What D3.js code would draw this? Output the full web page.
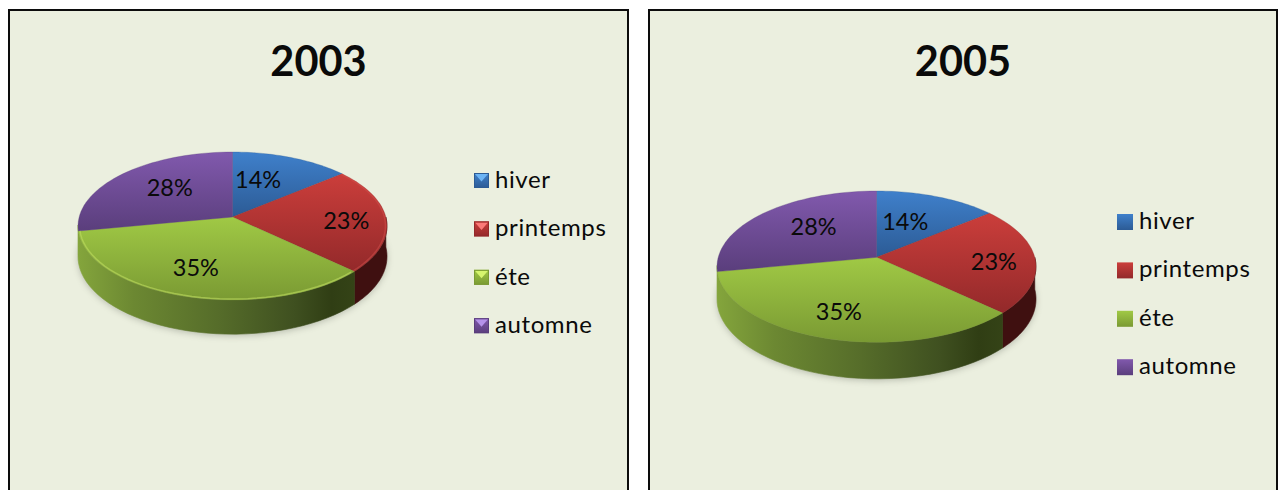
<!DOCTYPE html>
<html><head><meta charset="utf-8">
<script src="https://cdn.jsdelivr.net/npm/d3@7"></script>
<style>html,body{margin:0;padding:0;background:#fff;overflow:hidden}svg{display:block}text{font-family:Lato,"Open Sans",sans-serif;fill:#0a0a0a}</style>
</head><body><svg id="c" width="1281" height="490"></svg>
<script>
const categories = ["hiver","printemps","éte","automne"];
const values2003 = [14,23,35,28];
const values2005 = [14,23,35,28];
const titles = ["2003","2005"];

const palette = {
  hiver:{top:"#3f80cb",bot:"#2c5b95",wall:"#1c3a60",light:"#6cb4f5"},
  printemps:{top:"#cb3e3b",bot:"#93292a",wall:"#3f1010",light:"#fb7a78"},
  "éte":{top:"#a0c945",bot:"#7a9a33",wall:"#55702a",light:"#d6f56e"},
  automne:{top:"#8159ad",bot:"#5a3e7c",wall:"#3a2850",light:"#b592ea"}
};
// label placement: fraction of radius along the slice's mid-angle, plus fine nudge in px
const labelFrac=[0.58,0.74,0.68,0.60];
const panels = [
 {i:0,x:9,w:619,title:titles[0],tx:318.5,values:values2003,cx:232.5,cy:217,up:65,down:83,hw:154.5,depth:30,bevel:true,legX:474,legY:173,textX:495,sw:15,
  nudge:[[-10,-1],[0,2],[-5,-1],[5,-2]]},
 {i:1,x:649,w:628,title:titles[1],tx:963,values:values2005,cx:876.5,cy:257.3,up:66.3,down:85,hw:159.5,depth:32,bevel:false,legX:1117,legY:214,textX:1139,sw:16,
  nudge:[[-8,1],[0,3],[-5,2],[7,-3]]}
];

const svg=d3.select("#c"), defs=svg.append("defs");
const blur=defs.append("filter").attr("id","soft").attr("x","-20%").attr("y","-30%").attr("width","140%").attr("height","160%");
blur.append("feGaussianBlur").attr("stdDeviation",3.5);
const blur2=defs.append("filter").attr("id","tiny");
blur2.append("feGaussianBlur").attr("stdDeviation",0.6);

categories.forEach((c,i)=>{
  const g=defs.append("linearGradient").attr("id","top"+i).attr("x1",0).attr("y1",0).attr("x2",0).attr("y2",1);
  g.append("stop").attr("offset",0).attr("stop-color",palette[c].top);
  g.append("stop").attr("offset",1).attr("stop-color",palette[c].bot);
});

const pieGen=d3.pie().sort(null).value(d=>d);

panels.forEach(p=>{
  const k=(p.down-p.up)/(p.down+p.up), ry=p.down*(1-k), rx=p.hw*Math.sqrt(1-k*k);
  const proj=(a,f=1,dz=0)=>{const u=Math.sin(a)*f,v=-Math.cos(a)*f,w=1-k*v;
    return [p.cx+rx*u/w, p.cy+ry*v/w+dz/w];};
  const arcPts=(a0,a1,dz=0)=>{return d3.range(0,41).map(j=>proj(a0+(a1-a0)*j/40,1,dz));};
  const line=d3.line();
  const G=svg.append("g");
  // panel
  G.append("rect").attr("x",p.x).attr("y",10).attr("width",p.w).attr("height",520)
    .attr("fill","#ebefdf").attr("stroke","#0c0c0c").attr("stroke-width",2);
  G.append("text").attr("x",p.tx).attr("y",75.5).attr("text-anchor","middle")
    .attr("font-size",41.5).attr("font-weight",700).text(p.title);

  const arcs=pieGen(p.values);
  // soft shadow
  G.append("path").attr("d",line(arcPts(0,2*Math.PI,p.depth+1.5))+"Z")
    .attr("fill","#50544a").attr("opacity",0.35).attr("filter","url(#soft)");

  // wall gradient across the pie width
  const gid="wall"+p.i;
  const wg=defs.append("linearGradient").attr("id",gid).attr("gradientUnits","userSpaceOnUse")
    .attr("x1",p.cx-p.hw).attr("x2",p.cx+p.hw).attr("y1",0).attr("y2",0);
  [[0,"#84a53c"],[0.18,"#6c8832"],[0.45,"#566d2a"],[0.7,"#3f5020"],[0.82,"#303e14"],[1,"#3a4a1a"]]
    .forEach(s=>wg.append("stop").attr("offset",s[0]).attr("stop-color",s[1]));

  // outer walls: the front portion only, i.e. the slices that run along the front rim
  const wallFrom=Math.PI/2;
  arcs.forEach((d,i)=>{
    if(d.endAngle<=wallFrom || d.startAngle>=arcs[2].endAngle) return;
    const a0=Math.max(d.startAngle,wallFrom), a1=d.endAngle+(i===2?0.08:0);
    const pts=arcPts(a0,a1,0).concat(arcPts(a0,a1,p.depth).reverse());
    G.append("path").attr("d",line(pts)+"Z")
      .attr("fill",i===2?`url(#${gid})`:palette[categories[i]].wall)
      .attr("stroke",i===2?`url(#${gid})`:palette[categories[i]].wall).attr("stroke-width",0.6);
  });

  // top faces
  arcs.forEach((d,i)=>{
    const pts=[proj(0,0)].concat(arcPts(d.startAngle,d.endAngle));
    G.append("path").attr("d",line(pts)+"Z").attr("fill",`url(#top${i})`)
      .attr("stroke",palette[categories[i]].bot).attr("stroke-width",0.3);
  });
  // bevel highlight
  if(p.bevel){
    const hl=[[arcs[2].startAngle+0.02,arcs[2].endAngle,"#bedc60",1.5,0.6],[arcs[1].startAngle,arcs[1].endAngle,"#d2504c",1.4,0.5]];
    hl.forEach(h=>{
      const pts=d3.range(0,41).map(j=>proj(h[0]+(h[1]-h[0])*j/40,0.99));
      G.append("path").attr("d",line(pts)).attr("fill","none").attr("stroke",h[2])
        .attr("stroke-width",h[3]).attr("opacity",h[4]).attr("filter","url(#tiny)");
    });
  }
  // labels
  arcs.forEach((d,i)=>{
    const m=(d.startAngle+d.endAngle)/2, q=proj(m,labelFrac[i]);
    G.append("text").attr("x",q[0]+p.nudge[i][0]).attr("y",q[1]+p.nudge[i][1]+8)
      .attr("text-anchor","middle").attr("font-size",23.5).text(d.value+"%");
  });
  // legend
  categories.forEach((c,i)=>{
    const y=p.legY+i*48.4, s=p.sw, x=p.legX;
    G.append("rect").attr("x",x).attr("y",y).attr("width",s).attr("height",s).attr("fill",`url(#top${i})`);
    if(p.bevel){
      const pth=d3.path(); pth.moveTo(x+1,y+1); pth.lineTo(x+s-1,y+1); pth.lineTo(x+s/2,y+s/2+1); pth.closePath();
      G.append("path").attr("d",pth.toString()).attr("fill",palette[c].light);
      G.append("rect").attr("x",x+.5).attr("y",y+.5).attr("width",s-1).attr("height",s-1)
        .attr("fill","none").attr("stroke",palette[c].bot).attr("stroke-width",1);
    }
    G.append("text").attr("x",p.textX).attr("y",y+15).attr("font-size",24).attr("letter-spacing",0.6).text(c);
  });
});
</script></body></html>
